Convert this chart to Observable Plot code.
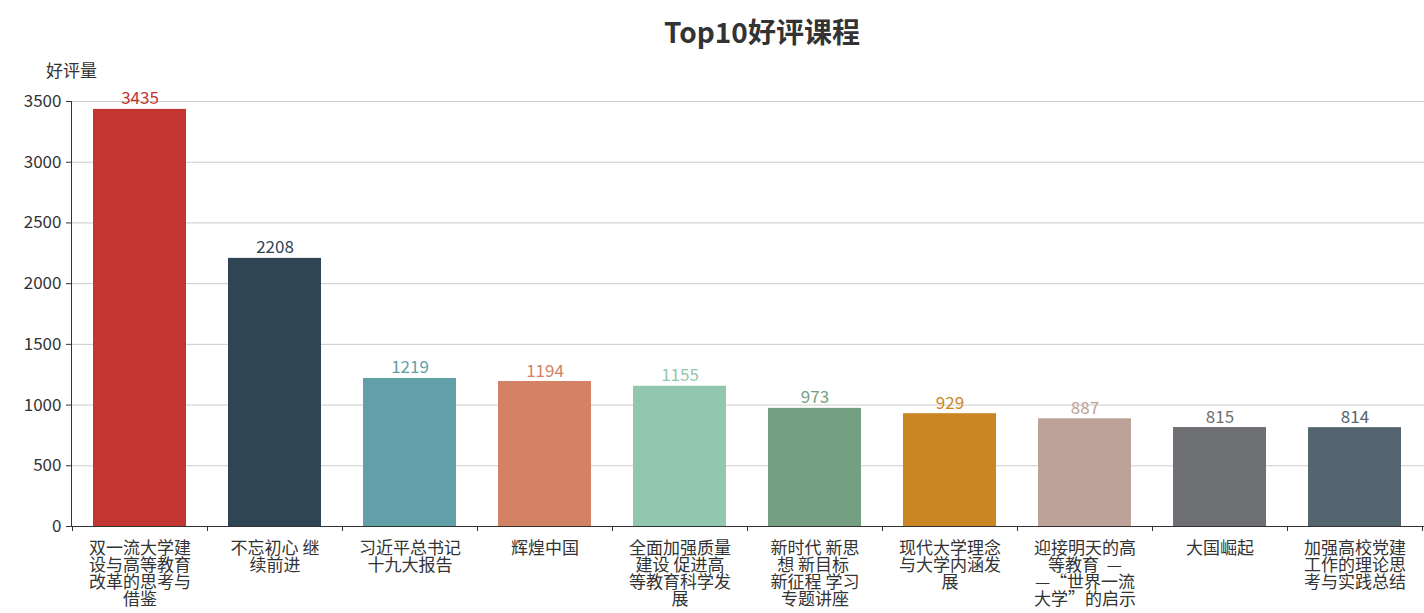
<!DOCTYPE html>
<html>
<head>
<meta charset="utf-8">
<script src="https://cdn.jsdelivr.net/npm/d3@7"></script>
<script src="https://cdn.jsdelivr.net/npm/@observablehq/plot@0.6"></script>
<style>
  body { margin: 0; background: #fff; font-family: "Noto Sans CJK SC", "Noto Sans", sans-serif; }
  #wrap { position: relative; width: 1424px; height: 613px; overflow: hidden; }
  #title { position: absolute; left: 762px; top: 12px; transform: translateX(-50%); font-size: 28px; font-weight: bold; color: #333; white-space: nowrap; line-height: 38px; }
  #chart { position: absolute; left: 0; top: 50px; }
</style>
</head>
<body>
<div id="wrap">
  <div id="title">Top10好评课程</div>
  <div id="chart"></div>
</div>
<script>
const courses = [
  "双一流大学建设与高等教育改革的思考与借鉴",
  "不忘初心 继续前进",
  "习近平总书记十九大报告",
  "辉煌中国",
  "全面加强质量建设 促进高等教育科学发展",
  "新时代 新思想 新目标 新征程 学习专题讲座",
  "现代大学理念与大学内涵发展",
  "迎接明天的高等教育  ——“世界一流大学”的启示",
  "大国崛起",
  "加强高校党建工作的理论思考与实践总结"
];
const goodReviews = [3435, 2208, 1219, 1194, 1155, 973, 929, 887, 815, 814];
const barColors = ["#c23531", "#2f4554", "#61a0a8", "#d48265", "#91c7ae", "#749f83", "#ca8622", "#bda29a", "#6e7074", "#546570"];
const yTicks = [0, 500, 1000, 1500, 2000, 2500, 3000, 3500];
const yLabel = "好评量";

const data = courses.map((c, i) => ({course: c, value: goodReviews[i]}));
const wrap6 = s => s.match(/.{1,6}/gu).join("\n");
const PAD_INNER = 0.31;

function axisLines(index, scales, values, dims) {
  const x = scales.x, y = scales.y;
  const step = x(courses[1]) - x(courses[0]);
  const bw = typeof x.bandwidth === "function" ? x.bandwidth() : step * (1 - PAD_INNER);
  const gap = (step - bw) / 2;
  const y0 = y(0);
  const left = dims.marginLeft, right = dims.width - dims.marginRight;
  const g = d3.create("svg:g").attr("stroke", "#333").attr("fill", "none").attr("stroke-width", 1);
  g.append("line").attr("x1", left + 0.5).attr("x2", left + 0.5).attr("y1", y(yTicks[yTicks.length - 1])).attr("y2", y0);
  g.append("line").attr("x1", left).attr("x2", right).attr("y1", y0 + 0.5).attr("y2", y0 + 0.5);
  const bounds = courses.map(c => x(c) - gap).concat([x(courses[courses.length - 1]) + bw + gap]);
  bounds.forEach(b => {
    const bx = Math.round(b) + 0.5;
    g.append("line").attr("x1", bx).attr("x2", bx).attr("y1", y0).attr("y2", y0 + 5);
  });
  return g.node();
}

const chart = Plot.plot({
  width: 1424,
  height: 563,
  marginTop: 51,
  marginBottom: 87,
  marginLeft: 71,
  marginRight: 0,
  style: {fontFamily: '"Noto Sans CJK SC", "Noto Sans", sans-serif', background: "#fff", overflow: "visible"},
  x: {domain: courses, paddingInner: PAD_INNER, paddingOuter: PAD_INNER / 2, axis: null},
  y: {domain: [0, 3500], axis: null},
  color: {domain: courses, range: barColors},
  marks: [
    Plot.ruleY(yTicks.slice(1), {stroke: "#ccc", strokeOpacity: 1}),
    Plot.barY(data, {x: "course", y: "value", fill: "course"}),
    axisLines,
    Plot.text(data, {x: "course", y: "value", text: d => String(d.value), fill: "course", dy: -5, lineAnchor: "bottom", fontSize: 17}),
    Plot.axisY({ticks: yTicks, tickSize: 5, tickPadding: 5, fontSize: 17, stroke: "#333", fill: "#333", label: null, tickFormat: d => String(d)}),
    Plot.axisX({tickSize: 0, tickPadding: 15, fontSize: 17, lineHeight: 1.0, fill: "#333", label: null, tickFormat: wrap6}),
    Plot.text([yLabel], {frameAnchor: "top-left", dy: -37, textAnchor: "middle", fontSize: 17, fill: "#333"})
  ]
});
document.getElementById("chart").appendChild(chart);
</script>
</body>
</html>
